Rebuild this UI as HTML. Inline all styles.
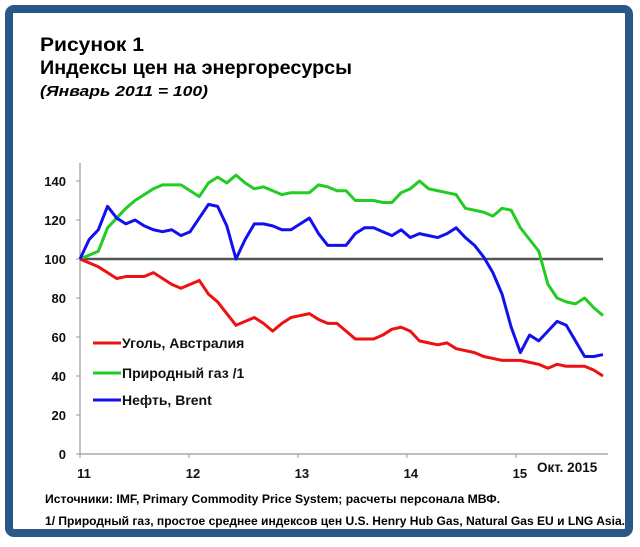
<!DOCTYPE html>
<html><head><meta charset="utf-8">
<style>
html,body{margin:0;padding:0;background:#fff;}
svg{display:block;font-family:"Liberation Sans","DejaVu Sans",sans-serif;}
</style></head>
<body>
<svg width="640" height="547" viewBox="0 0 640 547">
  <rect x="9" y="9" width="620" height="524" rx="5" fill="#fff" stroke="#2b5788" stroke-width="8"/>
  <text x="40" y="51" font-size="19" font-weight="bold" textLength="104" lengthAdjust="spacingAndGlyphs">Рисунок 1</text>
  <text x="40" y="74" font-size="19" font-weight="bold" textLength="312" lengthAdjust="spacingAndGlyphs">Индексы цен на энергоресурсы</text>
  <text x="40" y="96" font-size="15" font-weight="bold" font-style="italic" textLength="168" lengthAdjust="spacingAndGlyphs">(Январь 2011 = 100)</text>
  <g id="plot"></g>
  <text x="45" y="503" font-size="11.5" font-weight="bold" textLength="455" lengthAdjust="spacingAndGlyphs">Источники: IMF, Primary Commodity Price System; расчеты персонала МВФ.</text>
  <text x="45" y="525" font-size="11.5" font-weight="bold" textLength="580" lengthAdjust="spacingAndGlyphs">1/ Природный газ, простое среднее индексов цен U.S. Henry Hub Gas,  Natural Gas EU и LNG Asia.</text>
</svg>
<script>
const yTicks=[0,20,40,60,80,100,120,140];
const xTickLabels=["11","12","13","14","15"];
const coal=[100,98,96,93,90,91,91,91,93,90,87,85,87,89,82,78,72,66,68,70,67,63,67,70,71,72,69,67,67,63,59,59,59,61,64,65,63,58,57,56,57,54,53,52,50,49,48,48,48,47,46,44,46,45,45,45,43,40];
const gas=[100,102,104,116,121,126,130,133,136,138,138,138,135,132,139,142,139,143,139,136,137,135,133,134,134,134,138,137,135,135,130,130,130,129,129,134,136,140,136,135,134,133,126,125,124,122,126,125,116,110,104,87,80,78,77,80,75,71];
const oil=[100,110,115,127,121,118,120,117,115,114,115,112,114,121,128,127,117,100,110,118,118,117,115,115,118,121,113,107,107,107,113,116,116,114,112,115,111,113,112,111,113,116,111,107,101,93,82,65,52,61,58,63,68,66,58,50,50,51];
const seriesNames=["Уголь, Австралия","Природный газ /1","Нефть, Brent"];
const NS="http://www.w3.org/2000/svg";
const g=document.getElementById("plot");
const x0=80,mw=9.175,y0=454,py=1.95;
const xS=i=>x0+i*mw, yS=v=>y0-v*py;
function mk(t,a,p){const e=document.createElementNS(NS,t);for(const k in a)e.setAttribute(k,a[k]);(p||g).appendChild(e);return e;}
// axes
let ax=mk("line",{x1:x0,y1:163,x2:x0,y2:y0,stroke:"#999","stroke-width":1.2});


let bx=mk("line",{x1:x0,y1:y0,x2:608,y2:y0,stroke:"#999","stroke-width":1.2});


yTicks.forEach(v=>{
  const t=mk("text",{x:66,y:yS(v)+5,"font-size":13,"font-weight":"bold","text-anchor":"end",fill:"#111"});
  t.textContent=v;
  
  
  mk("line",{x1:x0-4,y1:yS(v),x2:x0,y2:yS(v),stroke:"#999"});
});
xTickLabels.forEach((l,k)=>{
  const xx=x0+k*12*9.08;
  mk("line",{x1:xx,y1:y0,x2:xx,y2:y0+4,stroke:"#999"});
  const t=mk("text",{x:xx+4,y:478,"font-size":13,"font-weight":"bold","text-anchor":"middle",fill:"#111"});
  t.textContent=l;
  
  
});
const oct=mk("text",{x:537,y:472,"font-size":13.5,"font-weight":"bold",fill:"#111"});
oct.textContent="Окт. 2015";


const ref=mk("line",{x1:x0,y1:yS(100),x2:xS(57),y2:yS(100),stroke:"#555","stroke-width":2.5});


function line(d,c,name){
  const p=mk("polyline",{points:d.map((v,i)=>xS(i)+","+yS(v)).join(" "),fill:"none",stroke:c,"stroke-width":3,"stroke-linejoin":"round"});
  
  
}
line(gas,"#22cc22","gas-line");
line(coal,"#ee1111","coal-line");
line(oil,"#1111ee","oil-line");
const cols=["#ee1111","#22cc22","#1111ee"],ly=[343,373,400];
seriesNames.forEach((n,k)=>{
  const lg=mk("g",{});
  
  
  mk("line",{x1:93,y1:ly[k],x2:121,y2:ly[k],stroke:cols[k],"stroke-width":3},lg);
  const t=mk("text",{x:122,y:ly[k]+5,"font-size":14,"font-weight":"bold",fill:"#111"},lg);
  t.textContent=n;
});
</script>
</body></html>
